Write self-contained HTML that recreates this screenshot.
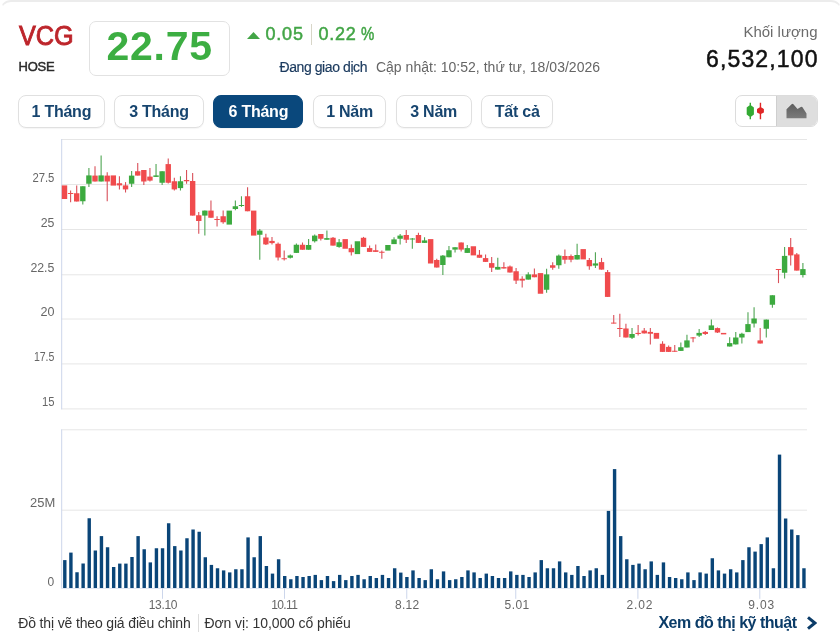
<!DOCTYPE html>
<html lang="vi">
<head>
<meta charset="utf-8">
<title>VCG - Biểu đồ giá</title>
<style>
*{box-sizing:border-box;margin:0;padding:0}
html,body{width:840px;height:642px;background:#fff;overflow:hidden}
body{font-family:"Liberation Sans",Arial,sans-serif;color:#333;position:relative}
.card{position:absolute;left:0;top:0;width:840px;height:642px;background:transparent;will-change:transform}
.card:before{content:"";position:absolute;left:0;top:0;width:840px;height:14px;border-top:2px solid #ececec;border-left:1px solid transparent;border-right:1px solid transparent;border-radius:11px 11px 0 0}
.sym{position:absolute;left:19px;top:20px;font-size:27px;line-height:32px;color:#bd252b;font-weight:400;letter-spacing:0;transform:scaleX(.935);transform-origin:0 50%;-webkit-text-stroke:.9px #bd252b}
.exch{position:absolute;left:18.5px;top:58px;letter-spacing:-.2px;font-size:13px;line-height:18px;color:#2b2b2b;-webkit-text-stroke:.45px #2b2b2b}
.price{position:absolute;left:88.5px;top:21px;width:141.5px;height:55px;border:1px solid #e2e2e2;border-radius:7px;text-align:center;font-size:41px;line-height:48px;font-weight:700;color:#3cae42;letter-spacing:.75px;text-indent:.75px}
.chg{position:absolute;left:247px;top:22px;height:24px;display:flex;align-items:center;color:#42a546;font-size:18px;line-height:24px;letter-spacing:.8px;-webkit-text-stroke:.5px #42a546}
.chg .tri{width:13px;height:7px;margin-right:5.5px;margin-top:3px;flex-shrink:0;display:block}
.chg .sep{width:1px;height:21px;background:#d8d6c8;margin:0 6.4px 0 7.3px;flex-shrink:0}
.chg .pct{display:inline-block;margin-left:4.7px;letter-spacing:0;transform:scaleX(.83);transform-origin:0 50%;margin-right:-3px}
.status{position:absolute;left:279.5px;top:57.5px;font-size:14px;line-height:18px;white-space:nowrap;color:#666;letter-spacing:.02px}
.status b{font-weight:400;color:#1b3a5e;margin-right:8.9px;letter-spacing:-.42px;-webkit-text-stroke:.2px #1b3a5e}
.vol{position:absolute;right:22.5px;top:22px;text-align:right}
.vol .l{font-size:15px;line-height:20px;color:#6b6b6b}
.vol .v{font-size:23px;line-height:28px;color:#111;margin-top:3px;letter-spacing:1.15px;margin-right:-1.15px;-webkit-text-stroke:.5px #111}
.tabs{position:absolute;left:18.25px;top:95px;display:flex;gap:9.7px}
.tab{height:32.5px;padding:0;text-align:center;letter-spacing:-.25px;border:1px solid #e0e0e0;border-radius:8px;background:#fff;font:700 16px/32px "Liberation Sans",Arial,sans-serif;color:#17456f;white-space:nowrap;box-shadow:0 1px 1px rgba(0,0,0,.04)}
.tab.on{background:#0a487c;border-color:#0a487c;color:#fff}
.toggle{position:absolute;left:735.3px;top:95.2px;width:83px;height:32.2px;border:1px solid #dcdcdc;border-radius:7px;overflow:hidden;display:flex;background:#fff}
.toggle span{display:block;width:40px;height:31px}
.toggle span.on{background:#dedede;border-left:1px solid #cfcfcf;width:42px}
.chart{position:absolute;left:0;top:130px;display:block}
.chart .ax text{font:12px "Liberation Sans",Arial,sans-serif;fill:#666}
.foot{position:absolute;left:18.25px;top:613.5px;font-size:14px;line-height:18px;color:#333;white-space:nowrap}
.foot span{position:absolute;top:0;left:0;letter-spacing:-.15px}
.foot span+i+span{left:186.25px;letter-spacing:-.1px}
.foot i{position:absolute;left:179.5px;top:.5px;display:block;width:1px;height:17.5px;background:#ddd}
.more{position:absolute;right:23.2px;top:612.3px;font-size:16px;line-height:22px;font-weight:700;color:#0b3c68;white-space:nowrap;display:flex;align-items:center;letter-spacing:-.5px}
.more svg{margin-left:9.3px;position:relative;top:-.8px}
</style>
</head>
<body>
<div class="card">
  <div class="sym">VCG</div>
  <div class="exch">HOSE</div>
  <div class="price">22.75</div>
  <div class="chg"><svg class="tri" viewBox="0 0 13 7"><path d="M0 7 L6.5 0 L13 7 Z" fill="#42a546"/></svg><span>0.05</span><span class="sep"></span><span>0.22</span><span class="pct">%</span></div>
  <div class="status"><b>Đang giao dịch</b>Cập nhật: 10:52, thứ tư, 18/03/2026</div>
  <div class="vol"><div class="l">Khối lượng</div><div class="v">6,532,100</div></div>
  <div class="tabs">
    <button class="tab" style="width:86.25px">1 Tháng</button>
    <button class="tab" style="width:89.5px">3 Tháng</button>
    <button class="tab on" style="width:90px">6 Tháng</button>
    <button class="tab" style="width:73px">1 Năm</button>
    <button class="tab" style="width:75.75px">3 Năm</button>
    <button class="tab" style="width:72px">Tất cả</button>
  </div>
  <div class="toggle">
    <span><svg width="40" height="31" viewBox="0 0 40 31"><line x1="14.3" x2="14.3" y1="6.8" y2="23.2" stroke="#33aa33" stroke-width="1.4"/><path d="M10.7 11.6 L13.3 9.5 L15.3 9.5 L17.9 11.6 L17.9 18.6 L15.3 20.6 L13.3 20.6 L10.7 18.6 Z" fill="#33aa33"/><line x1="24.45" x2="24.45" y1="6.8" y2="23.2" stroke="#e02626" stroke-width="1.4"/><path d="M21 13 L23.4 11.6 L25.5 11.6 L27.9 13 L27.9 16.4 L25.5 17.8 L23.4 17.8 L21 16.4 Z" fill="#e02626"/></svg></span>
    <span class="on"><svg width="41" height="31" viewBox="0 0 41 31"><defs><linearGradient id="ag" x1="0" y1="0" x2="0" y2="1"><stop offset="0" stop-color="#5e5e5e"/><stop offset="1" stop-color="#7b7b7b"/></linearGradient></defs><path d="M9.5 13.2 L14.6 8.2 Q15.5 7.4 16.4 8.2 L20.5 13 L23.8 10.9 Q24.8 10.3 25.5 11.3 L29.5 17.5 L29.5 22.2 L9.5 22.2 Z" fill="url(#ag)"/></svg></span>
  </div>
<svg class="chart" width="840" height="480" viewBox="0 130 840 480">
<g stroke="#e6e6e6" stroke-width="1">
<line x1="61.5" x2="807" y1="139.5" y2="139.5"/>
<line x1="61.5" x2="807" y1="184.5" y2="184.5"/>
<line x1="61.5" x2="807" y1="229.5" y2="229.5"/>
<line x1="61.5" x2="807" y1="274.8" y2="274.8"/>
<line x1="61.5" x2="807" y1="319.0" y2="319.0"/>
<line x1="61.5" x2="807" y1="363.9" y2="363.9"/>
<line x1="61.5" x2="807" y1="408.9" y2="408.9"/>
<line x1="61.5" x2="807" y1="429.8" y2="429.8"/>
<line x1="61.5" x2="807" y1="510.2" y2="510.2"/>
</g>
<g stroke="#ccd6eb" stroke-width="1">
<line x1="61.7" x2="61.7" y1="139" y2="409.4"/>
<line x1="61.7" x2="61.7" y1="429.3" y2="588.5"/>
<line x1="61.5" x2="807" y1="588.4" y2="588.4" stroke="#dfe5f2"/>
<line x1="162.5" x2="162.5" y1="588" y2="598.8"/>
<line x1="284.5" x2="284.5" y1="588" y2="598.8"/>
<line x1="406.75" x2="406.75" y1="588" y2="598.8"/>
<line x1="515.75" x2="515.75" y1="588" y2="598.8"/>
<line x1="637.9" x2="637.9" y1="588" y2="598.8"/>
<line x1="759.8" x2="759.8" y1="588" y2="598.8"/>
</g>
<g class="ax" text-anchor="end">
<text x="54.4" y="182.0" textLength="22.0" lengthAdjust="spacingAndGlyphs">27.5</text>
<text x="54.4" y="227.2" textLength="13.7" lengthAdjust="spacingAndGlyphs">25</text>
<text x="54.4" y="272.1" textLength="24.0" lengthAdjust="spacingAndGlyphs">22.5</text>
<text x="54.4" y="316.2" textLength="14.0" lengthAdjust="spacingAndGlyphs">20</text>
<text x="54.4" y="360.9" textLength="20.5" lengthAdjust="spacingAndGlyphs">17.5</text>
<text x="54.4" y="405.6" textLength="12.5" lengthAdjust="spacingAndGlyphs">15</text>
<text x="55.2" y="506.6" textLength="25.2" lengthAdjust="spacingAndGlyphs">25M</text>
<text x="54.3" y="586">0</text>
</g>
<g class="ax" text-anchor="middle">
<text x="163.1" y="608.8" textLength="28.75" lengthAdjust="spacing">13.10</text>
<text x="284.6" y="608.8" textLength="26.75" lengthAdjust="spacing">10.11</text>
<text x="407.1" y="608.8" textLength="24.25" lengthAdjust="spacing">8.12</text>
<text x="516.9" y="608.8" textLength="24.75" lengthAdjust="spacing">5.01</text>
<text x="639.4" y="608.8" textLength="26" lengthAdjust="spacing">2.02</text>
<text x="761.3" y="608.8" textLength="26" lengthAdjust="spacing">9.03</text>
</g>
<g>
<rect x="61.8" y="185.4" width="5.4" height="13.6" fill="#f04b4d"/>
<line x1="70.6" x2="70.6" y1="190.6" y2="202.3" stroke="#d9505a" stroke-width="1.1"/>
<rect x="67.9" y="193" width="5.4" height="1" fill="#f04b4d"/>
<line x1="76.7" x2="76.7" y1="185.4" y2="201.5" stroke="#d9505a" stroke-width="1.1"/>
<rect x="74" y="193.25" width="5.4" height="8.25" fill="#f04b4d"/>
<line x1="82.81" x2="82.81" y1="186.25" y2="204.6" stroke="#4fa553" stroke-width="1.1"/>
<rect x="80.11" y="186.25" width="5.4" height="15" fill="#3caa3f"/>
<line x1="88.91" x2="88.91" y1="167.9" y2="187.1" stroke="#4fa553" stroke-width="1.1"/>
<rect x="86.21" y="175.4" width="5.4" height="8.35" fill="#3caa3f"/>
<line x1="95.01" x2="95.01" y1="166.25" y2="181.5" stroke="#d9505a" stroke-width="1.1"/>
<rect x="92.31" y="175.6" width="5.4" height="5.9" fill="#f04b4d"/>
<line x1="101.12" x2="101.12" y1="155.4" y2="181.5" stroke="#4fa553" stroke-width="1.1"/>
<rect x="98.42" y="175.4" width="5.4" height="6.1" fill="#3caa3f"/>
<line x1="107.22" x2="107.22" y1="172.25" y2="201.25" stroke="#d9505a" stroke-width="1.1"/>
<rect x="104.52" y="175.6" width="5.4" height="5.9" fill="#f04b4d"/>
<rect x="110.62" y="175.4" width="5.4" height="10.2" fill="#f04b4d"/>
<line x1="119.42" x2="119.42" y1="176.25" y2="189.5" stroke="#d9505a" stroke-width="1.1"/>
<rect x="116.72" y="183.25" width="5.4" height="2.15" fill="#f04b4d"/>
<line x1="125.53" x2="125.53" y1="182.1" y2="192.5" stroke="#d9505a" stroke-width="1.1"/>
<rect x="122.83" y="185.4" width="5.4" height="4" fill="#f04b4d"/>
<line x1="131.63" x2="131.63" y1="171" y2="187.1" stroke="#4fa553" stroke-width="1.1"/>
<rect x="128.93" y="175.6" width="5.4" height="8.15" fill="#3caa3f"/>
<line x1="137.73" x2="137.73" y1="162.9" y2="175.6" stroke="#d9505a" stroke-width="1.1"/>
<rect x="135.03" y="171.25" width="5.4" height="4.35" fill="#f04b4d"/>
<line x1="143.83" x2="143.83" y1="170" y2="185" stroke="#d9505a" stroke-width="1.1"/>
<rect x="141.13" y="170" width="5.4" height="11.5" fill="#f04b4d"/>
<line x1="149.94" x2="149.94" y1="167.9" y2="181.5" stroke="#d9505a" stroke-width="1.1"/>
<rect x="147.24" y="176.6" width="5.4" height="4" fill="#f04b4d"/>
<line x1="156.04" x2="156.04" y1="164.1" y2="176.9" stroke="#4fa553" stroke-width="1.1"/>
<rect x="153.34" y="175.4" width="5.4" height="1.5" fill="#3caa3f"/>
<line x1="162.14" x2="162.14" y1="171.25" y2="185" stroke="#4fa553" stroke-width="1.1"/>
<rect x="159.44" y="171.25" width="5.4" height="11.5" fill="#3caa3f"/>
<line x1="168.24" x2="168.24" y1="158.5" y2="183.5" stroke="#d9505a" stroke-width="1.1"/>
<rect x="165.54" y="164.1" width="5.4" height="18.65" fill="#f04b4d"/>
<line x1="174.34" x2="174.34" y1="177.75" y2="190.6" stroke="#d9505a" stroke-width="1.1"/>
<rect x="171.65" y="181.25" width="5.4" height="8.15" fill="#f04b4d"/>
<line x1="180.45" x2="180.45" y1="176.25" y2="190.6" stroke="#4fa553" stroke-width="1.1"/>
<rect x="177.75" y="181.25" width="5.4" height="6.85" fill="#3caa3f"/>
<line x1="186.55" x2="186.55" y1="170" y2="183.75" stroke="#d9505a" stroke-width="1.1"/>
<rect x="183.85" y="180" width="5.4" height="1.25" fill="#f04b4d"/>
<line x1="192.65" x2="192.65" y1="173.1" y2="215.6" stroke="#d9505a" stroke-width="1.1"/>
<rect x="189.95" y="181" width="5.4" height="34.6" fill="#f04b4d"/>
<line x1="198.75" x2="198.75" y1="211.9" y2="233.75" stroke="#d9505a" stroke-width="1.1"/>
<rect x="196.06" y="215.25" width="5.4" height="5.75" fill="#f04b4d"/>
<line x1="204.86" x2="204.86" y1="210.6" y2="235.6" stroke="#4fa553" stroke-width="1.1"/>
<rect x="202.16" y="210.6" width="5.4" height="5" fill="#3caa3f"/>
<line x1="210.96" x2="210.96" y1="200.6" y2="217.75" stroke="#d9505a" stroke-width="1.1"/>
<rect x="208.26" y="210.6" width="5.4" height="7.15" fill="#f04b4d"/>
<line x1="217.06" x2="217.06" y1="216.25" y2="226.5" stroke="#d9505a" stroke-width="1.1"/>
<rect x="214.36" y="219" width="5.4" height="1" fill="#f04b4d"/>
<line x1="223.16" x2="223.16" y1="210.6" y2="223.75" stroke="#d9505a" stroke-width="1.1"/>
<rect x="220.47" y="216.25" width="5.4" height="6" fill="#f04b4d"/>
<rect x="226.57" y="210.6" width="5.4" height="14" fill="#3caa3f"/>
<line x1="235.37" x2="235.37" y1="200.6" y2="210.25" stroke="#4fa553" stroke-width="1.1"/>
<rect x="232.67" y="206.25" width="5.4" height="2.75" fill="#3caa3f"/>
<line x1="241.47" x2="241.47" y1="196.25" y2="206.9" stroke="#4fa553" stroke-width="1.1"/>
<rect x="238.77" y="205" width="5.4" height="1" fill="#3caa3f"/>
<line x1="247.57" x2="247.57" y1="187.25" y2="211.25" stroke="#d9505a" stroke-width="1.1"/>
<rect x="244.88" y="196.25" width="5.4" height="15" fill="#f04b4d"/>
<rect x="250.98" y="210.6" width="5.4" height="25" fill="#f04b4d"/>
<line x1="259.78" x2="259.78" y1="229" y2="259.75" stroke="#4fa553" stroke-width="1.1"/>
<rect x="257.08" y="230.6" width="5.4" height="4.15" fill="#3caa3f"/>
<line x1="265.88" x2="265.88" y1="233.75" y2="245" stroke="#d9505a" stroke-width="1.1"/>
<rect x="263.18" y="237.5" width="5.4" height="6.9" fill="#f04b4d"/>
<line x1="271.99" x2="271.99" y1="237.1" y2="244.6" stroke="#d9505a" stroke-width="1.1"/>
<rect x="269.29" y="240.9" width="5.4" height="2.2" fill="#f04b4d"/>
<line x1="278.09" x2="278.09" y1="242.5" y2="260.6" stroke="#d9505a" stroke-width="1.1"/>
<rect x="275.39" y="243.75" width="5.4" height="13.75" fill="#f04b4d"/>
<line x1="284.19" x2="284.19" y1="250.6" y2="260.6" stroke="#d9505a" stroke-width="1.1"/>
<rect x="281.49" y="258.25" width="5.4" height="1" fill="#f04b4d"/>
<line x1="290.29" x2="290.29" y1="254.5" y2="258.5" stroke="#4fa553" stroke-width="1.1"/>
<rect x="287.59" y="255.4" width="5.4" height="2.35" fill="#3caa3f"/>
<line x1="296.39" x2="296.39" y1="243.5" y2="252.9" stroke="#4fa553" stroke-width="1.1"/>
<rect x="293.69" y="244.75" width="5.4" height="8.15" fill="#3caa3f"/>
<line x1="302.5" x2="302.5" y1="242.5" y2="249.75" stroke="#d9505a" stroke-width="1.1"/>
<rect x="299.8" y="244.75" width="5.4" height="5" fill="#f04b4d"/>
<line x1="308.6" x2="308.6" y1="239" y2="249.75" stroke="#4fa553" stroke-width="1.1"/>
<rect x="305.9" y="245" width="5.4" height="4.75" fill="#3caa3f"/>
<line x1="314.7" x2="314.7" y1="234.4" y2="242.5" stroke="#4fa553" stroke-width="1.1"/>
<rect x="312" y="235.6" width="5.4" height="5.65" fill="#3caa3f"/>
<line x1="320.81" x2="320.81" y1="234" y2="240.6" stroke="#d9505a" stroke-width="1.1"/>
<rect x="318.11" y="234" width="5.4" height="4.75" fill="#f04b4d"/>
<line x1="326.91" x2="326.91" y1="230.6" y2="239.75" stroke="#4fa553" stroke-width="1.1"/>
<rect x="324.21" y="238.1" width="5.4" height="1.65" fill="#3caa3f"/>
<line x1="333.01" x2="333.01" y1="236.9" y2="245.6" stroke="#d9505a" stroke-width="1.1"/>
<rect x="330.31" y="237.75" width="5.4" height="7.85" fill="#f04b4d"/>
<line x1="339.11" x2="339.11" y1="239" y2="247.75" stroke="#4fa553" stroke-width="1.1"/>
<rect x="336.41" y="242.25" width="5.4" height="4.65" fill="#3caa3f"/>
<rect x="342.51" y="239.1" width="5.4" height="9.65" fill="#f04b4d"/>
<line x1="351.32" x2="351.32" y1="244.4" y2="255.6" stroke="#d9505a" stroke-width="1.1"/>
<rect x="348.62" y="248.1" width="5.4" height="4.15" fill="#f04b4d"/>
<rect x="354.72" y="241.25" width="5.4" height="12.85" fill="#3caa3f"/>
<line x1="363.52" x2="363.52" y1="236.9" y2="246.9" stroke="#d9505a" stroke-width="1.1"/>
<rect x="360.82" y="237.75" width="5.4" height="9.15" fill="#f04b4d"/>
<line x1="369.62" x2="369.62" y1="245.6" y2="251.9" stroke="#d9505a" stroke-width="1.1"/>
<rect x="366.93" y="248.1" width="5.4" height="3.8" fill="#f04b4d"/>
<line x1="375.73" x2="375.73" y1="244.4" y2="251.9" stroke="#d9505a" stroke-width="1.1"/>
<rect x="373.03" y="250.25" width="5.4" height="1.65" fill="#f04b4d"/>
<line x1="381.83" x2="381.83" y1="250.6" y2="258.75" stroke="#d9505a" stroke-width="1.1"/>
<rect x="379.13" y="251.75" width="5.4" height="1" fill="#f04b4d"/>
<rect x="385.23" y="245" width="5.4" height="5.6" fill="#3caa3f"/>
<line x1="394.04" x2="394.04" y1="237.25" y2="244.1" stroke="#4fa553" stroke-width="1.1"/>
<rect x="391.34" y="239.4" width="5.4" height="4.7" fill="#3caa3f"/>
<line x1="400.14" x2="400.14" y1="234" y2="244.4" stroke="#4fa553" stroke-width="1.1"/>
<rect x="397.44" y="235.6" width="5.4" height="3.15" fill="#3caa3f"/>
<line x1="406.24" x2="406.24" y1="230" y2="243.1" stroke="#d9505a" stroke-width="1.1"/>
<rect x="403.54" y="235" width="5.4" height="4.75" fill="#f04b4d"/>
<line x1="412.34" x2="412.34" y1="238.1" y2="248.75" stroke="#4fa553" stroke-width="1.1"/>
<rect x="409.64" y="238.5" width="5.4" height="1" fill="#3caa3f"/>
<line x1="418.44" x2="418.44" y1="232.75" y2="242.9" stroke="#d9505a" stroke-width="1.1"/>
<rect x="415.75" y="235" width="5.4" height="7.9" fill="#f04b4d"/>
<line x1="424.55" x2="424.55" y1="237.25" y2="242.9" stroke="#4fa553" stroke-width="1.1"/>
<rect x="421.85" y="240.4" width="5.4" height="2.5" fill="#3caa3f"/>
<rect x="427.95" y="239.1" width="5.4" height="24.4" fill="#f04b4d"/>
<line x1="436.75" x2="436.75" y1="258.75" y2="267.5" stroke="#d9505a" stroke-width="1.1"/>
<rect x="434.05" y="260" width="5.4" height="7.5" fill="#f04b4d"/>
<line x1="442.86" x2="442.86" y1="255" y2="275" stroke="#4fa553" stroke-width="1.1"/>
<rect x="440.16" y="255.6" width="5.4" height="9.4" fill="#3caa3f"/>
<line x1="448.96" x2="448.96" y1="246" y2="257.25" stroke="#4fa553" stroke-width="1.1"/>
<rect x="446.26" y="250.25" width="5.4" height="7" fill="#3caa3f"/>
<line x1="455.06" x2="455.06" y1="247.25" y2="252.5" stroke="#4fa553" stroke-width="1.1"/>
<rect x="452.36" y="247.25" width="5.4" height="2.35" fill="#3caa3f"/>
<line x1="461.16" x2="461.16" y1="242.5" y2="251.5" stroke="#d9505a" stroke-width="1.1"/>
<rect x="458.46" y="242.5" width="5.4" height="7.1" fill="#f04b4d"/>
<line x1="467.26" x2="467.26" y1="245" y2="252.9" stroke="#4fa553" stroke-width="1.1"/>
<rect x="464.56" y="248.1" width="5.4" height="4.8" fill="#3caa3f"/>
<rect x="470.67" y="246.25" width="5.4" height="9.15" fill="#f04b4d"/>
<line x1="479.47" x2="479.47" y1="250" y2="257.75" stroke="#d9505a" stroke-width="1.1"/>
<rect x="476.77" y="254.75" width="5.4" height="3" fill="#f04b4d"/>
<line x1="485.57" x2="485.57" y1="254.6" y2="261.9" stroke="#d9505a" stroke-width="1.1"/>
<rect x="482.87" y="258.1" width="5.4" height="3.8" fill="#f04b4d"/>
<line x1="491.68" x2="491.68" y1="256.9" y2="271.9" stroke="#d9505a" stroke-width="1.1"/>
<rect x="488.98" y="263.1" width="5.4" height="4.65" fill="#f04b4d"/>
<line x1="497.78" x2="497.78" y1="257.75" y2="269.6" stroke="#4fa553" stroke-width="1.1"/>
<rect x="495.08" y="266.9" width="5.4" height="2.7" fill="#3caa3f"/>
<line x1="503.88" x2="503.88" y1="262.25" y2="268.5" stroke="#d9505a" stroke-width="1.1"/>
<rect x="501.18" y="267.1" width="5.4" height="1.4" fill="#f04b4d"/>
<line x1="509.98" x2="509.98" y1="265.6" y2="272.5" stroke="#d9505a" stroke-width="1.1"/>
<rect x="507.28" y="266.5" width="5.4" height="6" fill="#f04b4d"/>
<line x1="516.09" x2="516.09" y1="267.9" y2="284" stroke="#d9505a" stroke-width="1.1"/>
<rect x="513.38" y="271.25" width="5.4" height="9.35" fill="#f04b4d"/>
<line x1="522.19" x2="522.19" y1="276.25" y2="287.5" stroke="#d9505a" stroke-width="1.1"/>
<rect x="519.49" y="278.75" width="5.4" height="1.85" fill="#f04b4d"/>
<line x1="528.29" x2="528.29" y1="272.25" y2="279.6" stroke="#4fa553" stroke-width="1.1"/>
<rect x="525.59" y="274.4" width="5.4" height="5.2" fill="#3caa3f"/>
<line x1="534.39" x2="534.39" y1="268.5" y2="277.25" stroke="#d9505a" stroke-width="1.1"/>
<rect x="531.69" y="274.4" width="5.4" height="2.85" fill="#f04b4d"/>
<rect x="537.79" y="273.1" width="5.4" height="20.65" fill="#f04b4d"/>
<line x1="546.6" x2="546.6" y1="268.75" y2="292.75" stroke="#4fa553" stroke-width="1.1"/>
<rect x="543.9" y="274.4" width="5.4" height="15.35" fill="#3caa3f"/>
<line x1="552.7" x2="552.7" y1="262.25" y2="269.75" stroke="#d9505a" stroke-width="1.1"/>
<rect x="550" y="265.25" width="5.4" height="2.5" fill="#f04b4d"/>
<line x1="558.8" x2="558.8" y1="254.6" y2="268.75" stroke="#4fa553" stroke-width="1.1"/>
<rect x="556.1" y="255.6" width="5.4" height="9.65" fill="#3caa3f"/>
<line x1="564.9" x2="564.9" y1="249.4" y2="263.75" stroke="#d9505a" stroke-width="1.1"/>
<rect x="562.2" y="256" width="5.4" height="3.75" fill="#f04b4d"/>
<line x1="571.01" x2="571.01" y1="254.6" y2="262.25" stroke="#d9505a" stroke-width="1.1"/>
<rect x="568.31" y="256" width="5.4" height="3.75" fill="#f04b4d"/>
<line x1="577.11" x2="577.11" y1="243.75" y2="259.5" stroke="#4fa553" stroke-width="1.1"/>
<rect x="574.41" y="255" width="5.4" height="4.5" fill="#3caa3f"/>
<rect x="580.51" y="249.1" width="5.4" height="10.3" fill="#f04b4d"/>
<line x1="589.32" x2="589.32" y1="257.9" y2="269.75" stroke="#d9505a" stroke-width="1.1"/>
<rect x="586.62" y="260" width="5.4" height="6.25" fill="#f04b4d"/>
<line x1="595.42" x2="595.42" y1="252.25" y2="268.1" stroke="#4fa553" stroke-width="1.1"/>
<rect x="592.72" y="263.4" width="5.4" height="2.2" fill="#3caa3f"/>
<line x1="601.52" x2="601.52" y1="257.9" y2="269.6" stroke="#d9505a" stroke-width="1.1"/>
<rect x="598.82" y="262.1" width="5.4" height="7.5" fill="#f04b4d"/>
<line x1="607.62" x2="607.62" y1="270" y2="296.9" stroke="#d9505a" stroke-width="1.1"/>
<rect x="604.92" y="272.1" width="5.4" height="24.8" fill="#f04b4d"/>
<line x1="613.73" x2="613.73" y1="315" y2="323.6" stroke="#d9505a" stroke-width="1.1"/>
<rect x="611.02" y="322.6" width="5.4" height="1" fill="#f04b4d"/>
<line x1="619.83" x2="619.83" y1="313.75" y2="336.9" stroke="#d9505a" stroke-width="1.1"/>
<rect x="617.13" y="328" width="5.4" height="1" fill="#f04b4d"/>
<line x1="625.93" x2="625.93" y1="323.75" y2="337.5" stroke="#d9505a" stroke-width="1.1"/>
<rect x="623.23" y="328.5" width="5.4" height="9" fill="#f04b4d"/>
<line x1="632.03" x2="632.03" y1="328.1" y2="339" stroke="#4fa553" stroke-width="1.1"/>
<rect x="629.33" y="334" width="5.4" height="3.75" fill="#3caa3f"/>
<line x1="638.13" x2="638.13" y1="325" y2="335.6" stroke="#d9505a" stroke-width="1.1"/>
<rect x="635.43" y="332.9" width="5.4" height="1.1" fill="#f04b4d"/>
<line x1="644.24" x2="644.24" y1="328.1" y2="333.4" stroke="#d9505a" stroke-width="1.1"/>
<rect x="641.54" y="330.6" width="5.4" height="2.8" fill="#f04b4d"/>
<line x1="650.34" x2="650.34" y1="328.1" y2="344.6" stroke="#d9505a" stroke-width="1.1"/>
<rect x="647.64" y="331.9" width="5.4" height="1.85" fill="#f04b4d"/>
<rect x="653.74" y="332.9" width="5.4" height="5.85" fill="#f04b4d"/>
<line x1="662.54" x2="662.54" y1="341.25" y2="351.9" stroke="#d9505a" stroke-width="1.1"/>
<rect x="659.84" y="343.75" width="5.4" height="8.15" fill="#f04b4d"/>
<line x1="668.65" x2="668.65" y1="345.6" y2="351.9" stroke="#d9505a" stroke-width="1.1"/>
<rect x="665.95" y="346.9" width="5.4" height="5" fill="#f04b4d"/>
<line x1="674.75" x2="674.75" y1="345" y2="351.75" stroke="#d9505a" stroke-width="1.1"/>
<rect x="672.05" y="350.75" width="5.4" height="1" fill="#f04b4d"/>
<line x1="680.85" x2="680.85" y1="342.5" y2="350.9" stroke="#4fa553" stroke-width="1.1"/>
<rect x="678.15" y="347.25" width="5.4" height="3.65" fill="#3caa3f"/>
<line x1="686.96" x2="686.96" y1="334.75" y2="347.5" stroke="#4fa553" stroke-width="1.1"/>
<rect x="684.25" y="340.4" width="5.4" height="7.1" fill="#3caa3f"/>
<line x1="693.06" x2="693.06" y1="336.9" y2="342.25" stroke="#d9505a" stroke-width="1.1"/>
<rect x="690.36" y="337.4" width="5.4" height="1" fill="#f04b4d"/>
<line x1="699.16" x2="699.16" y1="329.1" y2="336.9" stroke="#4fa553" stroke-width="1.1"/>
<rect x="696.46" y="332.9" width="5.4" height="2.7" fill="#3caa3f"/>
<line x1="705.26" x2="705.26" y1="331" y2="335" stroke="#d9505a" stroke-width="1.1"/>
<rect x="702.56" y="331.9" width="5.4" height="2.1" fill="#f04b4d"/>
<line x1="711.37" x2="711.37" y1="319.4" y2="330" stroke="#4fa553" stroke-width="1.1"/>
<rect x="708.66" y="325.4" width="5.4" height="4.6" fill="#3caa3f"/>
<line x1="717.47" x2="717.47" y1="327.5" y2="333" stroke="#d9505a" stroke-width="1.1"/>
<rect x="714.77" y="328.1" width="5.4" height="4.4" fill="#f04b4d"/>
<rect x="720.87" y="332.9" width="5.4" height="1.5" fill="#f04b4d"/>
<line x1="729.67" x2="729.67" y1="337.25" y2="346.5" stroke="#4fa553" stroke-width="1.1"/>
<rect x="726.97" y="343.1" width="5.4" height="3.4" fill="#3caa3f"/>
<line x1="735.77" x2="735.77" y1="331.9" y2="344.4" stroke="#4fa553" stroke-width="1.1"/>
<rect x="733.07" y="337.5" width="5.4" height="6.9" fill="#3caa3f"/>
<line x1="741.88" x2="741.88" y1="332.75" y2="343.5" stroke="#4fa553" stroke-width="1.1"/>
<rect x="739.18" y="333.75" width="5.4" height="3.75" fill="#3caa3f"/>
<line x1="747.98" x2="747.98" y1="312.25" y2="332.1" stroke="#4fa553" stroke-width="1.1"/>
<rect x="745.28" y="324.1" width="5.4" height="8" fill="#3caa3f"/>
<line x1="754.08" x2="754.08" y1="307.25" y2="327.5" stroke="#4fa553" stroke-width="1.1"/>
<rect x="751.38" y="318.5" width="5.4" height="5" fill="#3caa3f"/>
<line x1="760.19" x2="760.19" y1="328.1" y2="343.5" stroke="#d9505a" stroke-width="1.1"/>
<rect x="757.49" y="340.4" width="5.4" height="3.1" fill="#f04b4d"/>
<line x1="766.29" x2="766.29" y1="319.6" y2="337.5" stroke="#4fa553" stroke-width="1.1"/>
<rect x="763.59" y="319.6" width="5.4" height="9.15" fill="#3caa3f"/>
<line x1="772.39" x2="772.39" y1="295.25" y2="307.75" stroke="#4fa553" stroke-width="1.1"/>
<rect x="769.69" y="295.25" width="5.4" height="9.5" fill="#3caa3f"/>
<line x1="778.49" x2="778.49" y1="269.4" y2="283.1" stroke="#d9505a" stroke-width="1.1"/>
<rect x="775.79" y="269" width="5.4" height="1" fill="#f04b4d"/>
<line x1="784.6" x2="784.6" y1="246.9" y2="278.5" stroke="#4fa553" stroke-width="1.1"/>
<rect x="781.89" y="255.9" width="5.4" height="16.85" fill="#3caa3f"/>
<line x1="790.7" x2="790.7" y1="238.1" y2="265.4" stroke="#d9505a" stroke-width="1.1"/>
<rect x="788" y="247.1" width="5.4" height="8.3" fill="#f04b4d"/>
<line x1="796.8" x2="796.8" y1="253.1" y2="270.6" stroke="#d9505a" stroke-width="1.1"/>
<rect x="794.1" y="254.4" width="5.4" height="16.2" fill="#f04b4d"/>
<line x1="802.9" x2="802.9" y1="263.1" y2="277.5" stroke="#4fa553" stroke-width="1.1"/>
<rect x="800.2" y="269.1" width="5.4" height="5.9" fill="#3caa3f"/>
</g>
<g fill="#0a4578">
<rect x="63.1" y="560.1" width="3.4" height="27.9"/>
<rect x="69.21" y="552.6" width="3.4" height="35.4"/>
<rect x="75.32" y="572.25" width="3.4" height="15.75"/>
<rect x="81.43" y="563.5" width="3.4" height="24.5"/>
<rect x="87.53" y="518.25" width="3.4" height="69.75"/>
<rect x="93.64" y="550.5" width="3.4" height="37.5"/>
<rect x="99.75" y="536.1" width="3.4" height="51.9"/>
<rect x="105.86" y="547.25" width="3.4" height="40.75"/>
<rect x="111.97" y="567" width="3.4" height="21"/>
<rect x="118.08" y="563.6" width="3.4" height="24.4"/>
<rect x="124.19" y="563.6" width="3.4" height="24.4"/>
<rect x="130.3" y="557" width="3.4" height="31"/>
<rect x="136.4" y="536.1" width="3.4" height="51.9"/>
<rect x="142.51" y="549.25" width="3.4" height="38.75"/>
<rect x="148.62" y="562.4" width="3.4" height="25.6"/>
<rect x="154.73" y="548.25" width="3.4" height="39.75"/>
<rect x="160.84" y="548.25" width="3.4" height="39.75"/>
<rect x="166.95" y="523.25" width="3.4" height="64.75"/>
<rect x="173.06" y="546.1" width="3.4" height="41.9"/>
<rect x="179.17" y="550.5" width="3.4" height="37.5"/>
<rect x="185.27" y="538.25" width="3.4" height="49.75"/>
<rect x="191.38" y="529.5" width="3.4" height="58.5"/>
<rect x="197.49" y="531.75" width="3.4" height="56.25"/>
<rect x="203.6" y="557.25" width="3.4" height="30.75"/>
<rect x="209.71" y="564.9" width="3.4" height="23.1"/>
<rect x="215.82" y="568.25" width="3.4" height="19.75"/>
<rect x="221.93" y="570.4" width="3.4" height="17.6"/>
<rect x="228.03" y="572.4" width="3.4" height="15.6"/>
<rect x="234.14" y="569.25" width="3.4" height="18.75"/>
<rect x="240.25" y="569.25" width="3.4" height="18.75"/>
<rect x="246.36" y="537.4" width="3.4" height="50.6"/>
<rect x="252.47" y="557.25" width="3.4" height="30.75"/>
<rect x="258.58" y="536.1" width="3.4" height="51.9"/>
<rect x="264.69" y="566" width="3.4" height="22"/>
<rect x="270.8" y="573.6" width="3.4" height="14.4"/>
<rect x="276.9" y="559.25" width="3.4" height="28.75"/>
<rect x="283.01" y="576" width="3.4" height="12"/>
<rect x="289.12" y="579.25" width="3.4" height="8.75"/>
<rect x="295.23" y="576" width="3.4" height="12"/>
<rect x="301.34" y="577" width="3.4" height="11"/>
<rect x="307.45" y="576" width="3.4" height="12"/>
<rect x="313.56" y="574.9" width="3.4" height="13.1"/>
<rect x="319.67" y="580.1" width="3.4" height="7.9"/>
<rect x="325.77" y="576" width="3.4" height="12"/>
<rect x="331.88" y="581.1" width="3.4" height="6.9"/>
<rect x="337.99" y="574.9" width="3.4" height="13.1"/>
<rect x="344.1" y="580.1" width="3.4" height="7.9"/>
<rect x="350.21" y="576" width="3.4" height="12"/>
<rect x="356.32" y="574.9" width="3.4" height="13.1"/>
<rect x="362.43" y="579.25" width="3.4" height="8.75"/>
<rect x="368.54" y="576" width="3.4" height="12"/>
<rect x="374.64" y="578" width="3.4" height="10"/>
<rect x="380.75" y="574.9" width="3.4" height="13.1"/>
<rect x="386.86" y="578" width="3.4" height="10"/>
<rect x="392.97" y="568.25" width="3.4" height="19.75"/>
<rect x="399.08" y="572.6" width="3.4" height="15.4"/>
<rect x="405.19" y="577" width="3.4" height="11"/>
<rect x="411.3" y="570.4" width="3.4" height="17.6"/>
<rect x="417.4" y="578" width="3.4" height="10"/>
<rect x="423.51" y="580.1" width="3.4" height="7.9"/>
<rect x="429.62" y="569.25" width="3.4" height="18.75"/>
<rect x="435.73" y="579.25" width="3.4" height="8.75"/>
<rect x="441.84" y="571.4" width="3.4" height="16.6"/>
<rect x="447.95" y="580.1" width="3.4" height="7.9"/>
<rect x="454.06" y="579.25" width="3.4" height="8.75"/>
<rect x="460.17" y="577" width="3.4" height="11"/>
<rect x="466.27" y="570.4" width="3.4" height="17.6"/>
<rect x="472.38" y="572.4" width="3.4" height="15.6"/>
<rect x="478.49" y="578" width="3.4" height="10"/>
<rect x="484.6" y="573.6" width="3.4" height="14.4"/>
<rect x="490.71" y="576" width="3.4" height="12"/>
<rect x="496.82" y="578" width="3.4" height="10"/>
<rect x="502.93" y="578" width="3.4" height="10"/>
<rect x="509.04" y="571.4" width="3.4" height="16.6"/>
<rect x="515.14" y="574.9" width="3.4" height="13.1"/>
<rect x="521.25" y="574.9" width="3.4" height="13.1"/>
<rect x="527.36" y="577" width="3.4" height="11"/>
<rect x="533.47" y="572.4" width="3.4" height="15.6"/>
<rect x="539.58" y="560.1" width="3.4" height="27.9"/>
<rect x="545.69" y="568.25" width="3.4" height="19.75"/>
<rect x="551.8" y="568.25" width="3.4" height="19.75"/>
<rect x="557.9" y="561.4" width="3.4" height="26.6"/>
<rect x="564.01" y="572.4" width="3.4" height="15.6"/>
<rect x="570.12" y="574.9" width="3.4" height="13.1"/>
<rect x="576.23" y="566" width="3.4" height="22"/>
<rect x="582.34" y="576" width="3.4" height="12"/>
<rect x="588.45" y="570.4" width="3.4" height="17.6"/>
<rect x="594.56" y="568.25" width="3.4" height="19.75"/>
<rect x="600.67" y="574.9" width="3.4" height="13.1"/>
<rect x="606.77" y="510.9" width="3.4" height="77.1"/>
<rect x="612.88" y="469.1" width="3.4" height="118.9"/>
<rect x="618.99" y="536.1" width="3.4" height="51.9"/>
<rect x="625.1" y="559.25" width="3.4" height="28.75"/>
<rect x="631.21" y="564.9" width="3.4" height="23.1"/>
<rect x="637.32" y="563.6" width="3.4" height="24.4"/>
<rect x="643.43" y="569.25" width="3.4" height="18.75"/>
<rect x="649.54" y="561.4" width="3.4" height="26.6"/>
<rect x="655.64" y="574.9" width="3.4" height="13.1"/>
<rect x="661.75" y="562.4" width="3.4" height="25.6"/>
<rect x="667.86" y="577" width="3.4" height="11"/>
<rect x="673.97" y="578" width="3.4" height="10"/>
<rect x="680.08" y="579.25" width="3.4" height="8.75"/>
<rect x="686.19" y="572.4" width="3.4" height="15.6"/>
<rect x="692.3" y="580.1" width="3.4" height="7.9"/>
<rect x="698.4" y="572.4" width="3.4" height="15.6"/>
<rect x="704.51" y="573.6" width="3.4" height="14.4"/>
<rect x="710.62" y="558.25" width="3.4" height="29.75"/>
<rect x="716.73" y="570.4" width="3.4" height="17.6"/>
<rect x="722.84" y="573.6" width="3.4" height="14.4"/>
<rect x="728.95" y="569.25" width="3.4" height="18.75"/>
<rect x="735.06" y="572.4" width="3.4" height="15.6"/>
<rect x="741.17" y="560.1" width="3.4" height="27.9"/>
<rect x="747.27" y="547.25" width="3.4" height="40.75"/>
<rect x="753.38" y="551.6" width="3.4" height="36.4"/>
<rect x="759.49" y="544.1" width="3.4" height="43.9"/>
<rect x="765.6" y="537.4" width="3.4" height="50.6"/>
<rect x="771.71" y="568.25" width="3.4" height="19.75"/>
<rect x="777.82" y="454.6" width="3.4" height="133.4"/>
<rect x="783.93" y="518.5" width="3.4" height="69.5"/>
<rect x="790.04" y="529.5" width="3.4" height="58.5"/>
<rect x="796.14" y="535.1" width="3.4" height="52.9"/>
<rect x="802.25" y="568.25" width="3.4" height="19.75"/>
</g>
</svg>
  <div class="foot"><span>Đồ thị vẽ theo giá điều chỉnh</span><i></i><span>Đơn vị: 10,000 cổ phiếu</span></div>
  <a class="more">Xem đồ thị kỹ thuật<svg width="11" height="14" viewBox="0 0 11 14"><path d="M2 1.3 L8.9 7 L2 12.7" fill="none" stroke="#0b3c68" stroke-width="3"/></svg></a>
</div>
</body>
</html>
